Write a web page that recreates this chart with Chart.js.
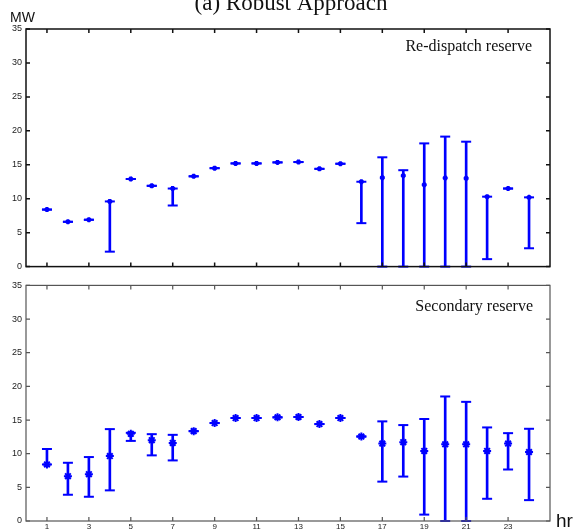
<!DOCTYPE html>
<html>
<head>
<meta charset="utf-8">
<script src="https://cdn.jsdelivr.net/npm/chart.js@4/dist/chart.umd.min.js"></script>
<style>
  body { margin: 0; background: #fff; width: 574px; height: 531px; position: relative; overflow: hidden; }
  canvas { position: absolute; left: 0; }
  #c1 { top: 0; }
  #c2 { top: 276px; }
</style>
</head>
<body>
<canvas id="c1" width="574" height="276"></canvas>
<canvas id="c2" width="574" height="255"></canvas>
<script>
const hours = [1, 2, 3, 4, 5, 6, 7, 8, 9, 10, 11, 12, 13, 14, 15, 16, 17, 18, 19, 20, 21, 22, 23, 24];
const hourTicks = [1, 3, 5, 7, 9, 11, 13, 15, 17, 19, 21, 23];
const mwTicks = [0, 5, 10, 15, 20, 25, 30, 35];

// re-dispatch reserve (top)
const redispatchValue = [8.4, 6.6, 6.9, 9.6, 12.9, 11.9, 11.5, 13.3, 14.5, 15.2, 15.2, 15.35, 15.4, 14.4, 15.15, 12.5, 13.1, 13.4, 12.05, 13.05, 13.0, 10.3, 11.5, 10.2];
const redispatchLow   = [8.4, 6.6, 6.9, 2.2, 12.9, 11.9, 9.0, 13.3, 14.5, 15.2, 15.2, 15.35, 15.4, 14.4, 15.15, 6.4, 0, 0, 0, 0, 0, 1.1, 11.5, 2.7];
const redispatchHigh  = [8.4, 6.6, 6.9, 9.6, 12.9, 11.9, 11.5, 13.3, 14.5, 15.2, 15.2, 15.35, 15.4, 14.4, 15.15, 12.5, 16.1, 14.2, 18.15, 19.15, 18.4, 10.3, 11.5, 10.2];

// secondary reserve (bottom)
const secondaryValue = [8.4, 6.65, 6.95, 9.65, 12.95, 12.0, 11.6, 13.35, 14.55, 15.3, 15.3, 15.4, 15.45, 14.4, 15.3, 12.55, 11.5, 11.7, 10.4, 11.4, 11.4, 10.4, 11.5, 10.25];
const secondaryLow   = [8.4, 3.9, 3.6, 4.55, 11.9, 9.75, 9.0, 13.35, 14.55, 15.3, 15.3, 15.4, 15.45, 14.4, 15.3, 12.55, 5.85, 6.6, 0.95, 0, 0, 3.3, 7.65, 3.1];
const secondaryHigh  = [10.7, 8.65, 9.5, 13.65, 13.1, 12.9, 12.8, 13.35, 14.55, 15.3, 15.3, 15.4, 15.45, 14.4, 15.3, 12.55, 14.8, 14.25, 15.15, 18.5, 17.7, 13.9, 13.05, 13.7];

const BLUE = '#0000ff';

Chart.defaults.font.family = '"Liberation Sans", Arial, sans-serif';
Chart.defaults.font.size = 8;
Chart.defaults.color = '#222';

// box around the plot, inward tick marks, and free text
const frame = {
  id: 'frame',
  afterDatasetsDraw(chart, args, opts) {
    const { ctx, chartArea: a, scales: { x, y } } = chart;
    ctx.save();
    ctx.strokeStyle = opts.color;
    ctx.lineWidth = opts.width;
    ctx.strokeRect(a.left, a.top, a.right - a.left, a.bottom - a.top);
    ctx.beginPath();
    x.ticks.forEach(t => {
      const px = x.getPixelForValue(t.value);
      ctx.moveTo(px, a.bottom); ctx.lineTo(px, a.bottom - 4);
      ctx.moveTo(px, a.top); ctx.lineTo(px, a.top + 4);
    });
    y.ticks.forEach(t => {
      const py = y.getPixelForValue(t.value);
      ctx.moveTo(a.left, py); ctx.lineTo(a.left + 4, py);
      ctx.moveTo(a.right, py); ctx.lineTo(a.right - 4, py);
    });
    ctx.stroke();
    ctx.fillStyle = '#111';
    ctx.textBaseline = 'alphabetic';
    (opts.texts || []).forEach(t => {
      ctx.font = t.font;
      ctx.textAlign = t.align || 'left';
      ctx.fillText(t.text, t.x, t.y);
    });
    ctx.restore();
  }
};

function makeDatasets(values, lows, highs, markerRadius, markerWidth) {
  const bars = hours.map((h, i) => ({ x: h, y: [lows[i], highs[i]] })).filter(p => p.y[1] > p.y[0]);
  const caps = hours.flatMap((h, i) => [{ x: h, y: lows[i] }, { x: h, y: highs[i] }]);
  const marks = hours.map((h, i) => ({ x: h, y: values[i] }));
  return [
    { type: 'bar', data: bars, backgroundColor: BLUE, barThickness: 2, clip: false },
    { type: 'scatter', data: caps, pointStyle: 'line', radius: 5, borderWidth: 2, borderColor: BLUE, clip: false },
    { type: 'scatter', data: marks, pointStyle: 'star', radius: markerRadius, borderWidth: markerWidth, borderColor: BLUE, backgroundColor: BLUE, clip: false }
  ];
}

function makeScales(showX, xHeight) {
  return {
    x: {
      type: 'linear', min: 0, max: 25, offset: false,
      afterBuildTicks: s => { s.ticks = hourTicks.map(v => ({ value: v })); },
      afterFit: s => { s.height = xHeight; },
      grid: { display: false, drawTicks: false, offset: false },
      border: { display: false },
      ticks: { display: showX, padding: 1, maxRotation: 0, autoSkip: false }
    },
    y: {
      min: 0, max: 35,
      afterBuildTicks: s => { s.ticks = mwTicks.map(v => ({ value: v })); },
      afterFit: s => { s.width = 26; },
      grid: { display: false, drawTicks: false },
      border: { display: false },
      ticks: { padding: 4, font: { size: 9 } }
    }
  };
}

new Chart(document.getElementById('c1'), {
  type: 'bar',
  data: { datasets: makeDatasets(redispatchValue, redispatchLow, redispatchHigh, 2.5, 2) },
  options: {
    responsive: false,
    animation: false,
    layout: { padding: { top: 29, right: 24, left: 0, bottom: 0 } },
    scales: makeScales(false, 6),
    plugins: {
      legend: { display: false },
      tooltip: { enabled: false },
      frame: {
        color: '#111', width: 1.5,
        texts: [
          { text: '(a) Robust Approach', x: 291, y: 10, font: '23px "Liberation Serif", serif', align: 'center' },
          { text: 'MW', x: 10, y: 22, font: '14px "Liberation Sans", Arial, sans-serif' },
          { text: 'Re-dispatch reserve', x: 532, y: 51, font: '16px "Liberation Serif", serif', align: 'right' }
        ]
      }
    }
  },
  plugins: [frame]
});

new Chart(document.getElementById('c2'), {
  type: 'bar',
  data: { datasets: makeDatasets(secondaryValue, secondaryLow, secondaryHigh, 4, 2) },
  options: {
    responsive: false,
    animation: false,
    layout: { padding: { top: 5, right: 24, left: 0, bottom: 0 } },
    scales: makeScales(true, 10),
    plugins: {
      legend: { display: false },
      tooltip: { enabled: false },
      frame: {
        color: '#555', width: 1.2,
        texts: [
          { text: 'Secondary reserve', x: 533, y: 35, font: '16px "Liberation Serif", serif', align: 'right' },
          { text: 'hr', x: 556, y: 251, font: '19px "Liberation Sans", Arial, sans-serif' }
        ]
      }
    }
  },
  plugins: [frame]
});
</script>
</body>
</html>
